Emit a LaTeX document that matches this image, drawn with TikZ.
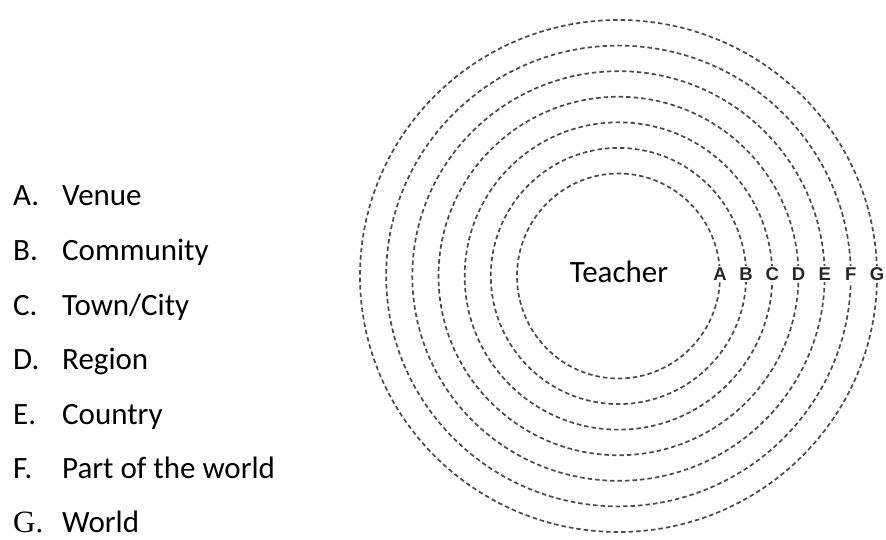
\documentclass[tikz,border=0pt]{standalone}
\usepackage{fontspec}
\setmainfont{Carlito}
\newfontfamily\ringfont{Liberation Sans Bold}
\newfontfamily\timesfont{Liberation Serif}
\definecolor{ringgray}{HTML}{4A4A4A}
\definecolor{lettergray}{HTML}{262626}
\begin{document}
\begin{tikzpicture}[x=1pt,y=1pt,
  ring/.style={draw=ringgray, line width=1.7pt, dash pattern=on 4.5pt off 3pt},
  ringlabel/.style={fill=white, inner sep=1.2pt, text=lettergray,
    font=\ringfont\fontsize{18.5}{18.5}\selectfont},
  listitem/.style={anchor=base west, inner sep=0pt, font=\fontsize{31}{31}\selectfont},
  bigtext/.style={anchor=base, inner sep=0pt, font=\fontsize{31}{31}\selectfont}]
\useasboundingbox (0,0) rectangle (886,539);
% legend
\foreach \k/\lab/\txt in {0/A/Venue,1/B/Community,2/C/Town\slash City,3/D/Region,4/E/Country,5/F/Part of the world}{
  \node[listitem] (l\lab) at (13,{333-54.5*\k}) {\lab.};
  \node[listitem] (t\lab) at (62,{333-54.5*\k}) {\txt};
}
\node[listitem, font=\timesfont\fontsize{31}{31}\selectfont] (lG) at (13,7) {G.};
\node[listitem] (tG) at (62,7) {World};
% rings
\coordinate (ctr) at (618.5,263);
\foreach \k in {0,...,6}{
  \draw[ring] (ctr) ellipse [x radius={101.5+26.17*\k}, y radius={102.5+25.58*\k}];
}
\node[bigtext] (teacher) at (619,257) {Teacher};
\foreach \k/\lab in {0/A,1/B,2/C,3/D,4/E,5/F,6/G}{
  \node[ringlabel] (r\lab) at ({618.5+101.5+26.17*\k},265) {\lab};
}
\end{tikzpicture}
\end{document}
